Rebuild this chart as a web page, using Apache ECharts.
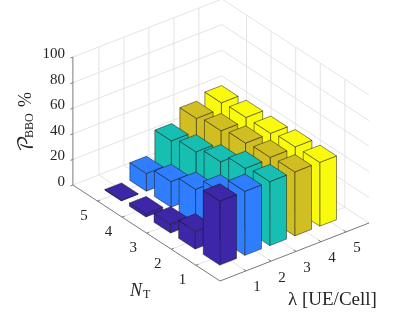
<!DOCTYPE html>
<html>
<head>
<meta charset="utf-8">
<style>html,body{margin:0;padding:0;background:#fff}#c{width:415px;height:312px}</style>
<script src="https://cdn.jsdelivr.net/npm/echarts@6/dist/echarts.min.js"></script>
</head>
<body>
<div id="c"></div>
<script>
// ---- data ----
const lambdaTicks = [1, 2, 3, 4, 5];
const nTicks = [1, 2, 3, 4, 5];
const zTicks = [0, 20, 40, 60, 80, 100];
const lambda1 = [50, 14, 7, 2.5, 0.5];
const lambda2 = [50, 37, 26.5, 20, 13.8];
const lambda3 = [50, 47.8, 40.4, 35.6, 31.7];
const lambda4 = [50, 48.8, 47.4, 44.5, 41.6];
const lambda5 = [49.8, 49.4, 47.4, 47.3, 46.2];
const colors = ['#3D26A8', '#2F7EFF', '#17BEB2', '#D1BE22', '#FAFA0C'];

// ---- 3-D scale (oblique projection of the axes box) ----
const FONT = '"Liberation Serif","Times New Roman",serif';
const TXT = '#262626';
const origin = [220, 281];
const lRange = [-0.04, 5.92], nRange = [0.02, 6.0], zRange = [0, 100];
const barShift = [-0.1, -0.02], barW = 0.67;
function P(l, n, z) {
  const a = l - lRange[0], b = n - nRange[0];
  return [origin[0] + 25 * a - 24.6 * b, origin[1] - 9.73 * a - 16.05 * b - 1.28 * z];
}
const line = (a, b, stroke, width) => ({
  type: 'line', shape: {x1: a[0], y1: a[1], x2: b[0], y2: b[1]},
  style: {stroke, lineWidth: width, fill: null}, silent: true
});
const lMin = lRange[0], lMax = lRange[1], nMin = nRange[0], nMax = nRange[1], zMax = zRange[1];

function renderBox() {
  const g = [], c = '#e4e4e4';
  lambdaTicks.forEach(l => {
    g.push(line(P(l, nMin, 0), P(l, nMax, 0), c, 1));
    g.push(line(P(l, nMax, 0), P(l, nMax, zMax), c, 1));
  });
  nTicks.forEach(n => {
    g.push(line(P(lMin, n, 0), P(lMax, n, 0), c, 1));
    g.push(line(P(lMax, n, 0), P(lMax, n, zMax), c, 1));
  });
  zTicks.forEach(z => {
    g.push(line(P(lMin, nMax, z), P(lMax, nMax, z), c, 1));
    g.push(line(P(lMax, nMax, z), P(lMax, nMin, z), c, 1));
  });
  const ax = '#7a7a7a';
  g.push(line(P(lMin, nMin, 0), P(lMax, nMin, 0), ax, 1));
  g.push(line(P(lMin, nMin, 0), P(lMin, nMax, 0), ax, 1));
  g.push(line(P(lMin, nMax, 0), P(lMin, nMax, zMax), ax, 1));
  lambdaTicks.forEach(l => g.push(line(P(l, nMin, 0), P(l, nMin + 0.1, 0), ax, 1)));
  nTicks.forEach(n => g.push(line(P(lMin, n, 0), P(lMin + 0.1, n, 0), ax, 1)));
  zTicks.forEach(z => g.push(line(P(lMin, nMax, z), P(lMin - 0.1, nMax, z), ax, 1)));
  const t = (s, p, dx, dy, align) => ({
    type: 'text', silent: true,
    style: {text: String(s), x: p[0] + dx, y: p[1] + dy, fill: TXT, font: '15px ' + FONT, align: align || 'center', verticalAlign: 'middle'}
  });
  lambdaTicks.forEach(l => g.push(t(l, P(l, nMin, 0), 11, 16.5)));
  nTicks.forEach(n => g.push(t(n, P(lMin, n, 0), -13.5, 15)));
  zTicks.forEach(z => g.push(t(z, P(lMin, nMax, z), -8, -3, 'right')));
  return {type: 'group', children: g};
}

function renderBar(params, api) {
  const l = api.value(0) + barShift[0], n = api.value(1) + barShift[1], v = api.value(2);
  const h = barW / 2, col = api.value(3);
  const l0 = l - h, l1 = l + h, n0 = n - h, n1 = n + h;
  const style = {fill: colors[col], stroke: 'rgba(20,20,20,0.62)', lineWidth: 0.8, lineJoin: 'round'};
  const poly = pts => ({type: 'polygon', shape: {points: pts}, style, silent: true});
  return {type: 'group', children: [
    poly([P(l0, n0, 0), P(l1, n0, 0), P(l1, n0, v), P(l0, n0, v)]),
    poly([P(l0, n0, 0), P(l0, n1, 0), P(l0, n1, v), P(l0, n0, v)]),
    poly([P(l0, n0, v), P(l1, n0, v), P(l1, n1, v), P(l0, n1, v)])
  ]};
}

const rows = [lambda1, lambda2, lambda3, lambda4, lambda5];
const series = [{type: 'custom', coordinateSystem: 'none', silent: true, animation: false, data: [[0]], renderItem: renderBox}];
for (let i = rows.length - 1; i >= 0; i--) {
  const d = [];
  for (let j = nTicks.length - 1; j >= 0; j--) d.push([lambdaTicks[i], nTicks[j], rows[i][j], i]);
  series.push({type: 'custom', coordinateSystem: 'none', silent: true, animation: false, data: d, renderItem: renderBar});
}

const txt = (text, x, y, size, extra) => Object.assign({
  type: 'text', silent: true, x, y,
  style: Object.assign({text, fill: TXT, font: size + 'px ' + FONT, align: 'left', verticalAlign: 'middle'}, extra || {})
});

const chart = echarts.init(document.getElementById('c'), null, {renderer: 'canvas'});
chart.setOption({
  animation: false,
  backgroundColor: '#fff',
  series,
  graphic: [
    {type: 'group', x: 26, y: 152, rotation: Math.PI / 2, silent: true, children: [
      txt('\uD835\uDCAB', 0, 0, 20, {font: '20px "DejaVu Math TeX Gyre","Noto Sans","DejaVu Sans",serif', align: 'left'}),
      txt('BBO', 14, 4, 12),
      txt('%', 45, 0, 18)
    ]},
    txt('N', 130, 291, 18, {font: 'italic 18px ' + FONT}),
    txt('T', 143, 295, 12),
    txt('\u03BB [UE/Cell]', 288, 300, 19)
  ]
});
</script>
</body>
</html>
